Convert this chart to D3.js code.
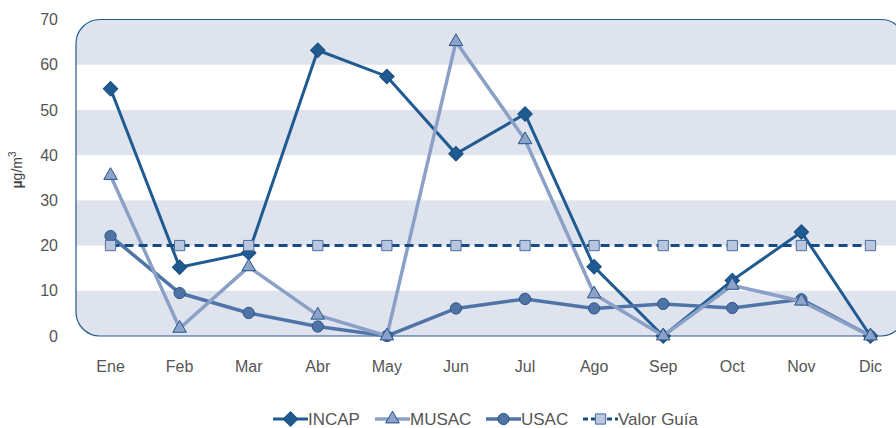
<!DOCTYPE html>
<html>
<head>
<meta charset="utf-8">
<script src="https://cdn.jsdelivr.net/npm/d3@7"></script>
<style>
  body { margin: 0; background: #fff; }
  svg { display: block; font-family: "Liberation Sans", Arial, sans-serif; }
</style>
</head>
<body>
<div class="chart"></div>
<script>
const months = ["Ene", "Feb", "Mar", "Abr", "May", "Jun", "Jul", "Ago", "Sep", "Oct", "Nov", "Dic"]
const incap = [54.7, 15.2, 18.4, 63.2, 57.4, 40.3, 49.1, 15.3, 0, 12.3, 23.0, 0]
const musac = [35.5, 1.7, 15.3, 4.6, 0, 65.1, 43.4, 9.3, 0, 11.2, 7.7, 0]
const usac = [22.1, 9.5, 5.1, 2.1, 0, 6.1, 8.2, 6.1, 7.1, 6.2, 8.1, 0]
const guia = [20, 20, 20, 20, 20, 20, 20, 20, 20, 20, 20, 20]
const yTicks = [0, 10, 20, 30, 40, 50, 60, 70]

const width = 896
const height = 428
const margin = { top: 19.5, right: -9, bottom: 92, left: 76 }

const svg = d3.select(".chart")
  .append("svg")
  .attr("width", width)
  .attr("height", height)

const x = d3.scaleBand()
  .domain(months)
  .range([margin.left, width - margin.right])

const y = d3.scaleLinear()
  .domain([0, 70])
  .range([height - margin.bottom, margin.top])

const plotW = width - margin.right - margin.left
const plotH = y(0) - y(70)

svg.append("clipPath").attr("id", "plot")
  .append("rect")
  .attr("x", margin.left).attr("y", y(70))
  .attr("width", plotW).attr("height", plotH)
  .attr("rx", 24)

// shaded bands every other 10 units
const bands = d3.range(0, 70, 20)
svg.append("g")
  .attr("clip-path", "url(#plot)")
  .selectAll("rect")
  .data(bands)
  .join("rect")
  .attr("x", margin.left)
  .attr("width", plotW)
  .attr("y", d => y(d + 10))
  .attr("height", d => y(d) - y(d + 10))
  .attr("fill", "#dfe3ee")

svg.append("rect")
  .attr("x", margin.left).attr("y", y(70))
  .attr("width", plotW).attr("height", plotH)
  .attr("rx", 24)
  .attr("fill", "none")
  .attr("stroke", "#24588f")
  .attr("stroke-width", 1.2)

// y axis
const yAxis = svg.append("g")
  .attr("transform", `translate(${margin.left - 18},0)`)
  .call(d3.axisLeft(y).tickValues(yTicks).tickSize(0).tickPadding(0))
yAxis.select(".domain").remove()
yAxis.selectAll("text")
  .attr("fill", "#555")
  .attr("font-size", 16)
  .attr("font-family", "Liberation Sans, Arial, sans-serif")

// x axis
const xAxis = svg.append("g")
  .attr("transform", `translate(0,${y(0) + 25})`)
  .call(d3.axisBottom(x).tickSize(0).tickPadding(0))
xAxis.select(".domain").remove()
xAxis.selectAll("text")
  .attr("fill", "#555")
  .attr("font-size", 16)
  .attr("font-family", "Liberation Sans, Arial, sans-serif")

// y label
const ylab = svg.append("text")
  .attr("transform", `translate(22,170) rotate(-90)`)
  .attr("text-anchor", "middle")
  .attr("fill", "#444")
  .attr("font-size", 14)
ylab.append("tspan").attr("font-weight", "bold").text("µ")
ylab.append("tspan").text("g/m")
ylab.append("tspan").attr("font-size", 10).attr("dy", -6).text("3")

const cx = m => x(m) + x.bandwidth() / 2

const series = [
  { name: "INCAP", values: incap, color: "#1f5a91", width: 3, shape: "diamond", fill: "#1f5a91", stroke: "#1a4f80" },
  { name: "USAC", values: usac, color: "#4f74a8", width: 3.5, shape: "circle", fill: "#5073a6", stroke: "#2c558c" },
  { name: "MUSAC", values: musac, color: "#8ba0c6", width: 3.5, shape: "triangle", fill: "#8ca2c8", stroke: "#25548a" },
  { name: "Valor Guía", values: guia, color: "#164c86", width: 3, shape: "square", fill: "#b9c6df", stroke: "#4a6d9c", dash: "9,5" }
]

const symbols = {
  diamond: d3.symbol().type(d3.symbolSquare).size(105),
  circle: d3.symbol().type(d3.symbolCircle).size(100),
  triangle: d3.symbol().type(d3.symbolTriangle).size(80),
  square: d3.symbol().type(d3.symbolSquare).size(105)
}
const rot = s => s === "diamond" ? " rotate(45)" : ""

const line = d3.line()
  .x((d, i) => cx(months[i]))
  .y(d => y(d))

series.forEach(s => {
  svg.append("path")
    .datum(s.values)
    .attr("d", line)
    .attr("fill", "none")
    .attr("stroke", s.color)
    .attr("stroke-width", s.width)
    .attr("stroke-dasharray", s.dash || null)

  svg.append("g")
    .selectAll("path")
    .data(s.values)
    .join("path")
    .attr("d", symbols[s.shape])
    .attr("transform", (d, i) => `translate(${cx(months[i])},${y(d)})${rot(s.shape)}`)
    .attr("fill", s.fill)
    .attr("stroke", s.stroke)
    .attr("stroke-width", 1)
})

// legend
const legendOrder = ["INCAP", "MUSAC", "USAC", "Valor Guía"]
const legendX = [273, 375, 486, 583]
const legend = svg.append("g")
legendOrder.forEach((name, i) => {
  const s = series.find(d => d.name === name)
  const g = legend.append("g").attr("transform", `translate(${legendX[i]},419)`)
  g.append("line")
    .attr("x1", 0).attr("x2", 35)
    .attr("stroke", s.color)
    .attr("stroke-width", s.width)
    .attr("stroke-dasharray", s.dash ? "5,3" : null)
  g.append("path")
    .attr("d", symbols[s.shape])
    .attr("transform", `translate(17.5,0)${rot(s.shape)}`)
    .attr("fill", s.fill)
    .attr("stroke", s.stroke)
  g.append("text")
    .attr("x", 35)
    .attr("dy", "0.35em")
    .attr("fill", "#555")
    .attr("font-size", 17)
    .text(name)
})
</script>
</body>
</html>
